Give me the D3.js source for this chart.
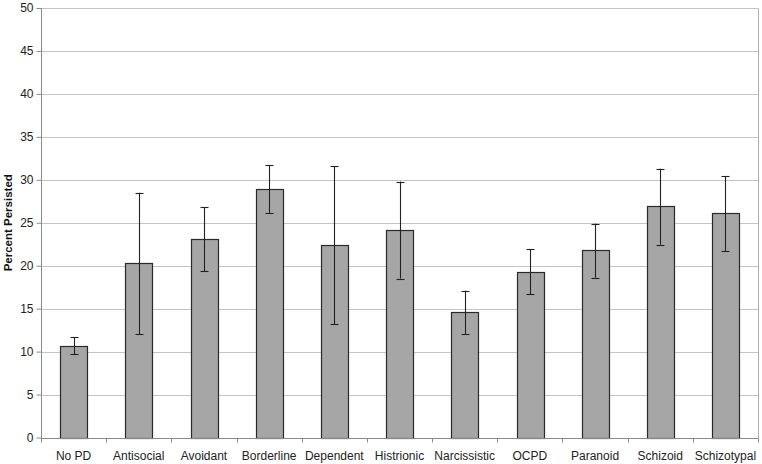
<!DOCTYPE html>
<html>
<head>
<meta charset="utf-8">
<script src="https://cdn.jsdelivr.net/npm/d3@7"></script>
<style>
html,body{margin:0;padding:0;background:#fff;}
svg{display:block;font-family:"Liberation Sans",Arial,sans-serif;}
</style>
</head>
<body>
<svg id="chart" width="762" height="464"></svg>
<script>
const categories = ["No PD","Antisocial","Avoidant","Borderline","Dependent","Histrionic","Narcissistic","OCPD","Paranoid","Schizoid","Schizotypal"];
const values     = [10.7, 20.3, 23.1, 28.9, 22.4, 24.2, 14.6, 19.3, 21.8, 26.9, 26.1];
const errLow     = [9.7, 12.0, 19.35, 26.1, 13.2, 18.5, 12.0, 16.7, 18.6, 22.45, 21.7];
const errHigh    = [11.7, 28.5, 26.8, 31.7, 31.6, 29.8, 17.1, 21.9, 24.9, 31.3, 30.4];
const yTicks     = [0,5,10,15,20,25,30,35,40,45,50];
const yTitle     = "Percent Persisted";

const svg = d3.select("#chart");
const m = {left:41, right:762-758, top:8, bottom:464-437.5};
const W = 762, H = 464;

const x = d3.scaleBand().domain(categories).range([m.left, W - m.right]).paddingInner(0).paddingOuter(0);
const y = d3.scaleLinear().domain([0,50]).range([H - m.bottom, m.top]);

// gridlines
svg.append("g").selectAll("line").data(yTicks.filter(d=>d>0)).join("line")
  .attr("x1", m.left).attr("x2", W - m.right)
  .attr("y1", d=>Math.round(y(d))+0.5).attr("y2", d=>Math.round(y(d))+0.5)
  .attr("stroke", "#c4c4c4").attr("stroke-width", 1);

// right border
svg.append("line").attr("x1", W - m.right + 0.5).attr("x2", W - m.right + 0.5)
  .attr("y1", Math.round(y(50))+0.5).attr("y2", Math.round(y(0))+0.5)
  .attr("stroke", "#b0b0b0");

// bars
const bw = x.bandwidth() * 0.41;
svg.append("g").selectAll("rect").data(categories).join("rect")
  .attr("x", d => Math.round(x(d) + x.bandwidth()/2 - bw/2) + 0.5)
  .attr("y", (d,i) => Math.round(y(values[i])) + 0.5)
  .attr("width", Math.round(bw))
  .attr("height", (d,i) => Math.round(y(0)) - Math.round(y(values[i])))
  .attr("fill", "#a6a6a6").attr("stroke", "#2a2a2a").attr("stroke-width", 1.2);

// error bars
const eg = svg.append("g").attr("stroke", "#222").attr("stroke-width", 1.1);
categories.forEach((c,i) => {
  const cx = Math.round(x(c) + x.bandwidth()/2) + 0.5;
  eg.append("line").attr("x1", cx).attr("x2", cx).attr("y1", y(errHigh[i])).attr("y2", y(errLow[i]));
  [errHigh[i], errLow[i]].forEach(v => {
    eg.append("line").attr("x1", cx-4).attr("x2", cx+4).attr("y1", Math.round(y(v))+0.5).attr("y2", Math.round(y(v))+0.5);
  });
});

// y axis
const yAxis = d3.axisLeft(y).tickValues(yTicks).tickSize(5).tickPadding(3).tickFormat(d3.format("d"));
const ya = svg.append("g").attr("transform", `translate(${m.left+0.5},0)`).call(yAxis);
ya.select(".domain").attr("stroke", "#8a8a8a").attr("d", `M-0,${y(50)}V${Math.round(y(0))+0.5}`);
ya.selectAll(".tick line").attr("stroke", "#8a8a8a");
ya.selectAll(".tick text").attr("fill", "#222").style("font-size", "12px");

// x axis
const xa = svg.append("g").attr("transform", `translate(0,${Math.round(y(0))+0.5})`);
xa.append("line").attr("x1", m.left).attr("x2", W - m.right).attr("stroke", "#8a8a8a");
const bounds = categories.map(c => x(c)).concat([W - m.right]);
xa.selectAll("line.tk").data(bounds).join("line").attr("class","tk")
  .attr("x1", d=>Math.round(d)+0.5).attr("x2", d=>Math.round(d)+0.5).attr("y1",0).attr("y2",4)
  .attr("stroke", "#8a8a8a");
xa.selectAll("text").data(categories).join("text")
  .attr("x", d => x(d) + x.bandwidth()/2).attr("y", 21)
  .attr("text-anchor","middle").attr("fill","#222").style("font-size","12px")
  .text(d=>d);

// y title
svg.append("text")
  .attr("transform", `translate(12,${(y(0)+y(50))/2}) rotate(-90)`)
  .attr("text-anchor","middle").attr("font-weight","bold").style("font-size","11.5px").attr("fill","#111")
  .text(yTitle);
</script>
</body>
</html>
